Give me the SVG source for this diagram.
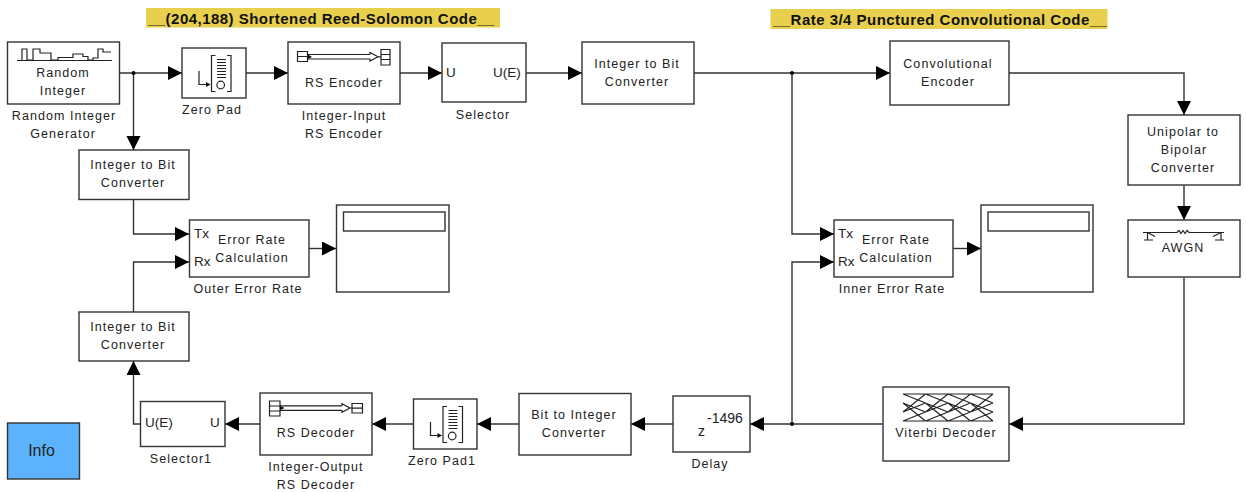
<svg xmlns="http://www.w3.org/2000/svg" width="1246" height="492" viewBox="0 0 1246 492">
<style>
.b{fill:#fff;stroke:#333;stroke-width:1.4}
.w{fill:none;stroke:#333;stroke-width:1.4}
.a{fill:none;stroke:#333;stroke-width:1.4;marker-end:url(#ah)}
.i{fill:none;stroke:#222;stroke-width:1.2}
.f{fill:#111}
text{font-family:"Liberation Sans",Arial,sans-serif;font-size:12.5px;letter-spacing:1.05px;fill:#222;text-anchor:middle}
.t{font-weight:bold;font-size:15px;letter-spacing:0.47px;fill:#111;text-anchor:start}
.p{letter-spacing:0;font-size:13.5px;text-anchor:start}
</style>
<defs>
<marker id="ah" markerUnits="userSpaceOnUse" markerWidth="15" markerHeight="15" refX="14" refY="7" orient="auto"><path d="M0,0L14,7L0,14z" fill="#000"/></marker>
<g id="pad"><path class="i" d="M199,71V84.500H207"/><path class="f" d="M206,82L210.500,84.500L206,87z"/><path class="i" d="M215.500,55.500H211.500V91.500H215.500M227,55.500H231V91.500H227"/><path class="i" d="M217,59.500H226M217,62.500H226M217,65.500H226M217,68.500H226M217,71.500H226M217,74.500H226M217,77.500H226"/><circle class="i" cx="220.700" cy="85" r="3.800"/></g>
<g id="cell"><path class="i" d="M0,0L22.500,0M0,0L22.500,9M0,9L22.500,18M0,9L22.500,27M0,18L22.500,0M0,18L22.500,9M0,27L22.500,18M0,27L22.500,27"/></g>
</defs>
<rect x="146" y="8" width="354" height="19.500" fill="#e8d04e"/>
<rect x="770.500" y="9" width="337" height="20" fill="#e8d04e"/>
<text class="t" x="148" y="23.500">__(204,188) Shortened Reed-Solomon Code__</text>
<text class="t" x="773" y="24.500">__Rate 3/4 Punctured Convolutional Code__</text>
<g id="connectors">
<path class="a" d="M120,73H182"/><path class="a" d="M133.500,73V150"/><path class="a" d="M246,73H288"/><path class="a" d="M400,73H442"/><path class="a" d="M526,73H582"/><path class="a" d="M694,73H890"/><path class="a" d="M1009,73H1184V115"/><path class="a" d="M1184,185V220"/><path class="a" d="M792,73V234H834"/>
<path class="a" d="M1184,277V424H1009"/><path class="a" d="M883,424H750"/><path class="a" d="M792,424V262H834"/><path class="a" d="M673,424H631"/><path class="a" d="M519,424H477"/><path class="a" d="M413,424H372"/><path class="a" d="M260,424H225"/><path class="a" d="M140,424H133.500V361"/><path class="a" d="M133.500,312V262H189"/><path class="a" d="M133.500,200V234H189"/><path class="a" d="M309,248.500H336"/><path class="a" d="M953,248.500H981"/>
<circle cx="133.500" cy="73" r="2"/><circle cx="792" cy="73" r="2"/><circle cx="792" cy="424" r="2"/>
</g>
<g id="random-integer"><rect class="b" x="7.500" y="42" width="112" height="62"/><path class="i" d="M17,60.500H112M22,60.500V49H27V60H33V49H40V53H51V60H58V57.500H73V54H83V56.500H88V60H93V58H98V49H103V52H111"/><text x="63" y="77">Random</text><text x="63" y="95">Integer</text><text x="64" y="120">Random Integer</text><text x="63" y="138">Generator</text></g>
<g id="zero-pad"><rect class="b" x="182" y="48" width="64" height="50"/><use href="#pad"/><text x="212" y="114">Zero Pad</text></g>
<g id="rs-encoder"><rect class="b" x="288" y="42" width="112" height="62"/><path class="i" d="M297.500,51.500h10v10h-10zM297.500,56.500H307.500M381,49.500h9v15.500h-9zM381,54.500H390M381,59.500H390M308,54.500H370M308,59H370M370,54.500V52.500L378,56.800L370,61V59M378,56.800H381"/><path class="f" d="M308,54.500L312,57L308,59z"/><text x="344" y="87">RS Encoder</text><text x="344" y="120">Integer-Input</text><text x="344" y="138">RS Encoder</text></g>
<g id="selector"><rect class="b" x="442" y="43" width="84" height="59"/><text class="p" x="446" y="77">U</text><text class="p" x="493" y="77">U(E)</text><text x="483" y="119">Selector</text></g>
<g id="int-bit-1"><rect class="b" x="582" y="42" width="112" height="62"/><text x="637" y="68">Integer to Bit</text><text x="637" y="86">Converter</text></g>
<g id="conv-encoder"><rect class="b" x="890" y="41" width="119" height="64"/><text x="948" y="68">Convolutional</text><text x="948" y="86">Encoder</text></g>
<g id="unipolar"><rect class="b" x="1128" y="115" width="112" height="70"/><text x="1183" y="136">Unipolar to</text><text x="1184" y="154">Bipolar</text><text x="1183" y="172">Converter</text></g>
<g id="awgn"><rect class="b" x="1128" y="220" width="112" height="57"/><path class="i" d="M1143,232.500H1177l2,-2 2,3 2,-3 2,3 2,-3 2,2H1224M1147.500,232.500V240M1144,240H1153M1147.500,232.500L1155,236.500M1221,232.500V240M1215,240H1224M1221,232.500L1213,236.500"/><text x="1183" y="252">AWGN</text></g>
<g id="inner-err"><rect class="b" x="834" y="220" width="119" height="57"/><text class="p" x="838" y="238">Tx</text><text class="p" x="838" y="266">Rx</text><text x="896" y="244">Error Rate</text><text x="896" y="262">Calculation</text><text x="892" y="293">Inner Error Rate</text></g>
<g id="inner-display"><rect class="b" x="981" y="205" width="112" height="87"/><rect class="b" x="988" y="212" width="101" height="19"/></g>
<g id="viterbi"><rect class="b" x="883" y="387" width="126" height="74"/><use href="#cell" x="903" y="394"/><use href="#cell" x="925.500" y="394"/><use href="#cell" x="948" y="394"/><use href="#cell" x="970.500" y="394"/><text x="946" y="437">Viterbi Decoder</text></g>
<g id="delay"><rect class="b" x="673" y="396" width="77" height="56"/><text class="p" x="698" y="436" style="font-size:14px">z</text><text class="p" x="707" y="423" style="font-size:14px">-1496</text><text x="710" y="468">Delay</text></g>
<g id="bit-int"><rect class="b" x="519" y="393.500" width="112" height="61.500"/><text x="574" y="419">Bit to Integer</text><text x="574" y="437">Converter</text></g>
<g id="zero-pad-1"><rect class="b" x="413.500" y="399" width="63.500" height="50"/><use href="#pad" x="231.500" y="351"/><text x="442" y="465">Zero Pad1</text></g>
<g id="rs-decoder"><rect class="b" x="260" y="393" width="112" height="62"/><path class="i" d="M269.500,401h10.500v15h-10.500zM269.500,406H280M269.500,411H280M352,403.500h10.500v9.500h-10.500zM352,408.200H362.500M280,405.800H342M280,410.300H342M342,405.800V403.800L350,408L342,412.300V410.300M350,408H352"/><path class="f" d="M280,405.800L284.500,408L280,410.300z"/><text x="316" y="437">RS Decoder</text><text x="316" y="471">Integer-Output</text><text x="316" y="489">RS Decoder</text></g>
<g id="selector-1"><rect class="b" x="140.500" y="401.500" width="84.500" height="45"/><text class="p" x="145" y="427">U(E)</text><text class="p" x="210" y="427">U</text><text x="181" y="463">Selector1</text></g>
<g id="int-bit-3"><rect class="b" x="79" y="312" width="110" height="49"/><text x="133" y="331">Integer to Bit</text><text x="133" y="349">Converter</text></g>
<g id="int-bit-2"><rect class="b" x="79" y="150" width="110" height="49.500"/><text x="133" y="169">Integer to Bit</text><text x="133" y="187">Converter</text></g>
<g id="outer-err"><rect class="b" x="189.500" y="220" width="119.500" height="57"/><text class="p" x="194" y="238">Tx</text><text class="p" x="194" y="266">Rx</text><text x="252" y="244">Error Rate</text><text x="252" y="262">Calculation</text><text x="248" y="293">Outer Error Rate</text></g>
<g id="outer-display"><rect class="b" x="336.500" y="205" width="112.500" height="87"/><rect class="b" x="343.500" y="212" width="101.500" height="19"/></g>
<g id="info"><rect x="7.500" y="423" width="72" height="56" fill="#5cb3fb" stroke="#333" stroke-width="1.4"/><text x="41.500" y="456" style="font-size:16px;letter-spacing:0">Info</text></g>
</svg>
